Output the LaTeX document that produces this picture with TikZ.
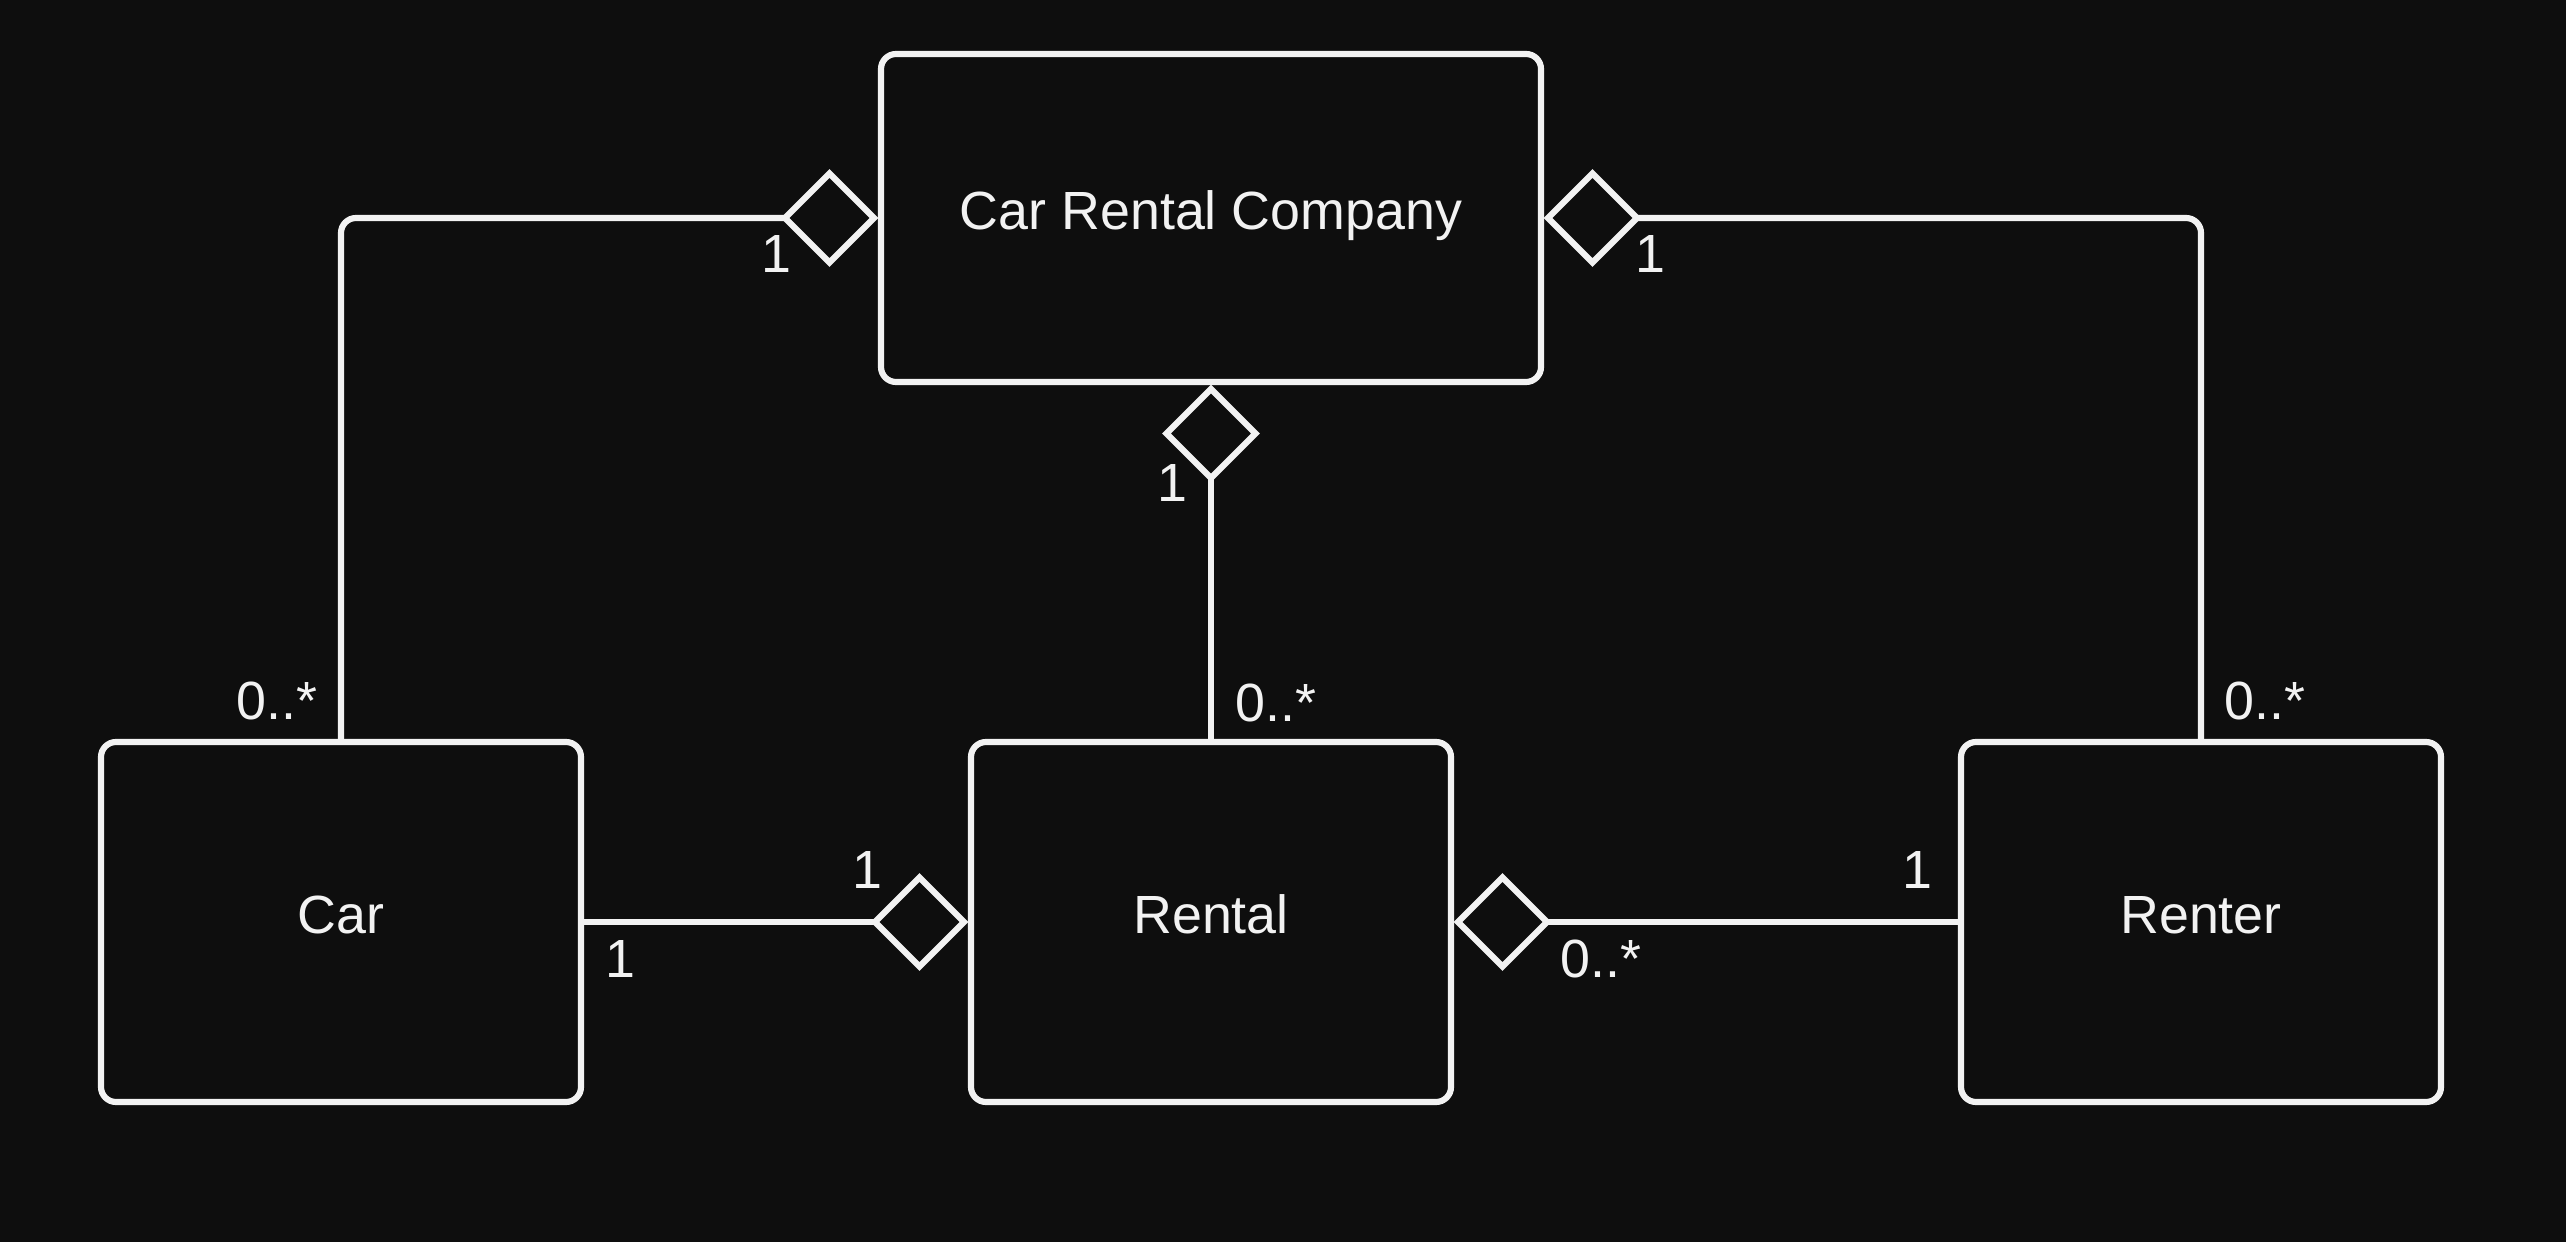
\documentclass[tikz,border=0pt]{standalone}
\usepackage{fontspec}
\setmainfont{Liberation Sans}
\usetikzlibrary{positioning,shapes.geometric}
\definecolor{bgdark}{HTML}{0E0E0E}
\definecolor{inkwhite}{HTML}{F2F2F2}

\begin{document}
\begin{tikzpicture}[every node/.style={font=\fontsize{15.3pt}{18pt}\selectfont,text=inkwhite,outer sep=0pt},
  cls/.style={draw=inkwhite,line width=1.75pt,rounded corners=0.15cm,fill=bgdark,
    minimum width=4.8cm,minimum height=3.6cm,text height=0.39cm,text depth=0.16cm},
  agg/.style={draw=inkwhite,line width=1.75pt,diamond,minimum width=0.89cm,minimum height=0.89cm,inner sep=0pt,fill=bgdark},
  assoc/.style={draw=inkwhite,line width=1.75pt,rounded corners=0.15cm},
  mult/.style={anchor=base,inner sep=0pt}]
  \useasboundingbox (0,0) rectangle (25.66,-12.42);
  \fill[bgdark] (0,0) rectangle (25.66,-12.42);
  % classes
  \node[cls,minimum width=6.6cm,minimum height=3.28cm] (crc) at (12.11,-2.18) {Car Rental Company};
  \node[cls] (car) at (3.41,-9.22) {Car};
  \node[cls] (rental) at (12.11,-9.22) {Rental};
  \node[cls] (renter) at (22.01,-9.22) {Renter};
  % aggregation diamonds
  \node[agg,left=0.07cm of crc] (d1) {};
  \node[agg,right=0.07cm of crc] (d2) {};
  \node[agg,below=0.07cm of crc] (d3) {};
  \node[agg,left=0.07cm of rental] (d4) {};
  \node[agg,right=0.07cm of rental] (d5) {};
  % associations
  \draw[assoc] (d1.west) -| (car.north);
  \draw[assoc] (d2.east) -| (renter.north);
  \draw[assoc] (d3.south) -- (rental.north);
  \draw[assoc] (car.east) -- (d4.west);
  \draw[assoc] (d5.east) -- (renter.west);
  % multiplicities
  \node[mult] (m1) at (7.76,-2.73) {1};
  \node[mult] (m2) at (16.50,-2.73) {1};
  \node[mult] (m3) at (11.72,-5.02) {1};
  \node[mult] (m4) at (2.77,-7.20) {0..*};
  \node[mult] (m5) at (12.76,-7.21) {0..*};
  \node[mult] (m6) at (22.65,-7.20) {0..*};
  \node[mult] (m7) at (8.67,-8.88) {1};
  \node[mult] (m8) at (6.20,-9.77) {1};
  \node[mult] (m9) at (16.01,-9.77) {0..*};
  \node[mult] (m10) at (19.17,-8.88) {1};
\end{tikzpicture}
\end{document}
